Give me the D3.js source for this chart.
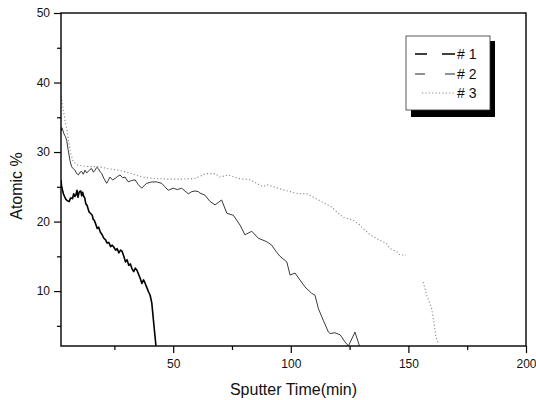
<!DOCTYPE html>
<html>
<head>
<meta charset="utf-8">
<script src="https://cdn.jsdelivr.net/npm/d3@7"></script>
<style>
  html, body { margin: 0; padding: 0; background: #fff; }
  svg { display: block; font-family: "Liberation Sans", Arial, sans-serif; }
</style>
</head>
<body>
<svg id="chart" width="536" height="400"></svg>
<script>
// ---- data ----
const seriesNames = ["# 1", "# 2", "# 3"];

const time1 = [2.3,2.5,2.9,3.3,3.8,4.4,5.0,5.8,6.4,7.2,7.7,8.2,8.6,9.1,9.5,10.1,10.7,11.1,11.5,12.0,12.4,12.8,13.4,14.2,14.8,15.6,16.0,16.4,17.0,17.7,18.3,19.0,19.8,20.5,21.2,21.9,22.6,23.4,24.1,24.8,25.5,26.2,26.9,27.6,28.3,29.0,29.7,30.4,31.1,31.8,32.5,33.2,33.9,34.6,35.3,36.0,36.7,37.4,38.1,38.8,39.5,40.2,40.9,41.6,42.3,42.7];
const atomic1 = [26.0,25.2,24.6,24.0,23.6,23.2,23.0,22.9,23.4,23.3,24.0,23.6,23.8,24.5,23.5,24.3,24.4,23.7,24.2,23.6,23.4,22.6,22.3,21.4,21.2,20.9,20.3,20.2,19.7,19.0,19.2,18.5,18.1,17.6,17.4,16.9,17.0,16.4,16.6,16.3,15.9,16.1,15.5,15.9,15.7,15.0,14.2,14.5,13.7,13.9,13.2,12.8,13.3,13.0,12.4,11.8,11.1,11.6,11.1,10.5,9.9,9.4,8.3,5.8,3.4,2.0];

const time2 = [2.3,2.7,3.2,3.6,4.2,4.7,5.4,6.1,6.8,7.5,8.2,9.0,9.7,10.4,11.1,11.8,12.5,13.2,13.9,14.6,15.4,16.1,16.8,17.5,18.2,18.9,19.6,20.7,21.7,22.4,23.1,24.2,25.3,26.4,27.4,28.5,29.5,30.9,32.3,33.8,35.2,36.6,37.7,38.7,40.9,43.0,45.1,46.5,47.9,50.0,51.8,53.6,55.0,56.4,57.9,59.3,60.7,61.4,63.5,65.6,67.8,70.6,72.8,75.6,78.4,80.5,83.4,86.2,89.8,91.9,93.3,95.4,98.3,99.7,101.8,103.9,106.0,108.8,110.3,111.7,113.8,116.0,116.7,118.8,121.0,123.0,124.5,127.3,129.3];
const atomic2 = [33.0,33.5,33.0,32.6,32.2,31.7,30.2,28.8,27.9,27.6,27.4,26.9,26.7,27.1,27.2,26.8,27.4,27.0,27.2,27.5,27.6,27.1,27.4,27.8,27.6,27.2,26.9,26.1,25.5,25.9,26.4,26.0,26.2,26.5,26.7,26.3,26.4,25.7,25.9,26.0,25.3,24.8,25.2,25.5,25.7,25.7,25.5,25.0,24.5,24.8,24.6,24.8,24.4,24.0,24.3,24.4,24.3,24.1,23.8,22.9,22.4,23.1,21.2,20.9,19.5,18.1,18.6,17.6,17.1,16.6,15.9,15.0,14.2,12.3,12.6,11.6,10.6,9.7,9.4,7.5,5.8,4.1,3.9,4.0,3.7,2.7,2.1,4.1,2.0];

const time3 = [2.3,2.7,3.3,4.0,4.9,6.1,7.5,9.5,13.9,18.2,22.4,26.7,32.4,36.6,42.3,47.9,53.6,59.3,62.7,63.5,67.8,69.9,73.4,77.7,82.7,88.3,89.8,97.5,103.2,106.8,117.4,119.5,122.3,125.9,128.7,130.8,133.7,137.9,140.8,142.2,145.0,146.4,149.0,152.5,156.3,157.8,159.9,160.9,161.7,162.7];
const atomic3 = [38.0,37.4,36.0,34.6,33.0,30.3,28.6,28.1,27.9,27.9,27.6,27.4,26.9,26.4,26.2,26.1,26.1,26.2,26.7,26.9,26.9,26.4,26.7,26.2,26.0,25.0,25.3,24.5,24.0,24.0,22.1,21.4,20.6,20.3,19.7,19.0,18.1,17.3,16.8,16.1,15.7,15.2,15.2,null,11.3,9.4,7.5,5.4,3.4,2.5];

const xMajorTicks = [50, 100, 150, 200];
const xMinorTicks = [25, 75, 125, 175];
const yMajorTicks = [10, 20, 30, 40, 50];
const yMinorTicks = [5, 15, 25, 35, 45];

const xTitle = "Sputter Time(min)";
const yTitle = "Atomic %";

// ---- layout ----
const L = 61, R = 526, T = 13, B = 346;
const svg = d3.select("#chart");

const x = d3.scaleLinear().domain([2.3, 200]).range([L, R]);
const y = d3.scaleLinear().domain([2.1, 50]).range([B, T]);

const series = [
  { name: seriesNames[0], t: time1, v: atomic1, color: "#000", width: 1.6, dash: null },
  { name: seriesNames[1], t: time2, v: atomic2, color: "#222", width: 0.9, dash: null },
  { name: seriesNames[2], t: time3, v: atomic3, color: "#8a8a8a", width: 1.1, dash: "1.2,2.2" }
];

svg.append("defs").append("clipPath").attr("id", "plotclip")
  .append("rect").attr("x", L).attr("y", T).attr("width", R - L).attr("height", B - T);

const line = d3.line()
  .defined(d => d[1] !== null && d[1] !== undefined)
  .x(d => x(d[0])).y(d => y(d[1]));

const g = svg.append("g").attr("clip-path", "url(#plotclip)");
series.slice().reverse().forEach(s => {
  const pts = s.t.map((t, i) => [t, s.v[i]]);
  g.append("path")
    .attr("d", line(pts))
    .attr("fill", "none")
    .attr("stroke", s.color)
    .attr("stroke-width", s.width)
    .attr("stroke-linejoin", "round")
    .attr("stroke-dasharray", s.dash);
});

// axes
const fontSize = 12;
const xAxis = svg.append("g").attr("transform", `translate(0,${B})`)
  .call(d3.axisBottom(x).tickValues(xMajorTicks).tickSize(7).tickPadding(6).tickFormat(d3.format("d")));
svg.append("g").attr("transform", `translate(0,${B})`)
  .call(d3.axisBottom(x).tickValues(xMinorTicks).tickSize(4).tickFormat(""));
const yAxis = svg.append("g").attr("transform", `translate(${L},0)`)
  .call(d3.axisLeft(y).tickValues(yMajorTicks).tickSize(7).tickPadding(4).tickFormat(d3.format("d")));
svg.append("g").attr("transform", `translate(${L},0)`)
  .call(d3.axisLeft(y).tickValues(yMinorTicks).tickSize(4).tickFormat(""));

svg.selectAll(".domain").remove();
svg.selectAll(".tick line").attr("stroke", "#000").attr("stroke-width", 1.2);
svg.selectAll(".tick text").attr("fill", "#111").style("font-size", fontSize + "px")
  .style("font-family", "'Liberation Sans', Arial, sans-serif");

// frame
svg.append("rect").attr("x", L).attr("y", T).attr("width", R - L).attr("height", B - T)
  .attr("fill", "none").attr("stroke", "#000").attr("stroke-width", 1.4);

// titles
svg.append("text").attr("x", (L + R) / 2).attr("y", 395).attr("text-anchor", "middle")
  .style("font-size", "16px").attr("fill", "#111").text(xTitle);
svg.append("text").attr("transform", `translate(22,186) rotate(-90)`).attr("text-anchor", "middle")
  .style("font-size", "16px").attr("fill", "#111").text(yTitle);

// legend
const lg = svg.append("g");
lg.append("rect").attr("x", 411).attr("y", 41).attr("width", 84).attr("height", 76).attr("fill", "#000");
lg.append("rect").attr("x", 406).attr("y", 36).attr("width", 84).attr("height", 74)
  .attr("fill", "#fff").attr("stroke", "#333").attr("stroke-width", 0.8);
const legY = [54, 74, 93];
series.forEach((s, i) => {
  const ly = legY[i];
  if (i < 2) {
    lg.append("line").attr("x1", 415).attr("x2", 455).attr("y1", ly).attr("y2", ly)
      .attr("stroke", s.color).attr("stroke-width", i === 0 ? 1.4 : 1)
      .attr("stroke-dasharray", i === 0 ? "12,15,13" : "10,20,10");
  } else {
    lg.append("line").attr("x1", 422).attr("x2", 455).attr("y1", ly).attr("y2", ly)
      .attr("stroke", s.color).attr("stroke-width", 1.1).attr("stroke-dasharray", s.dash);
  }
  lg.append("text").attr("x", 457).attr("y", ly + 5).style("font-size", "14px")
    .attr("fill", "#111").text(s.name);
});
</script>
</body>
</html>
